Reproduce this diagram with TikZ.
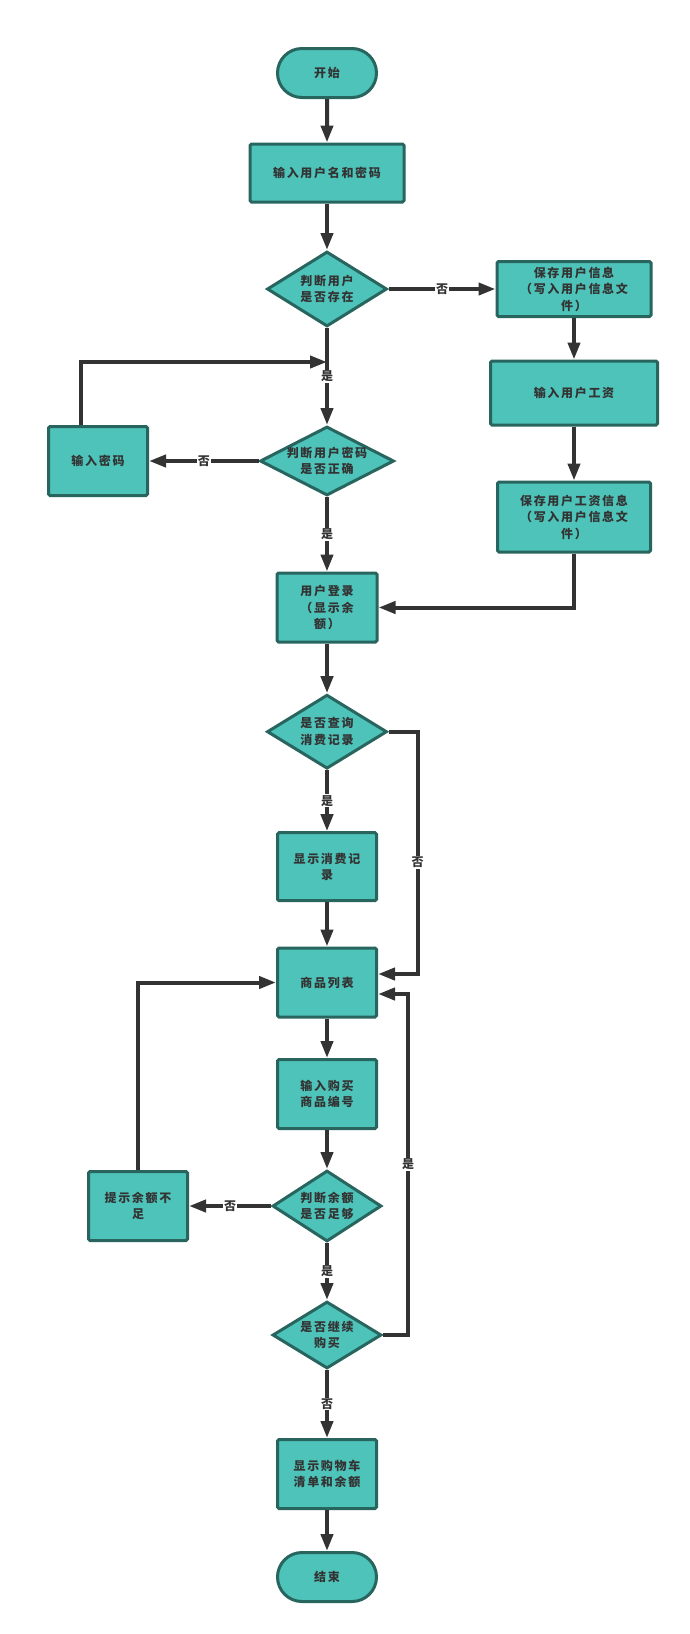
\documentclass[tikz,border=0pt]{standalone}
\usepackage{fontspec}
\newfontfamily\cjk[LetterSpace=14]{Noto Sans CJK SC}
\newfontfamily\cjkl{Noto Sans CJK SC}
\usetikzlibrary{arrows.meta,shapes.geometric,shapes.misc}
\definecolor{fl}{HTML}{4EC3B9}
\definecolor{bd}{HTML}{27655E}
\definecolor{ar}{HTML}{333333}
\definecolor{tx}{HTML}{333333}
\tikzset{
  base/.style={draw=bd, fill=fl, line width=3pt, text=tx, align=center, inner sep=0pt,
    font=\cjk\bfseries\fontsize{12}{16.5}\selectfont},
  proc/.style={base, rectangle, rounded corners=1.5pt, minimum width=#1},
  proc/.default=99pt,
  term/.style={base, rounded rectangle, minimum width=99pt, minimum height=49pt},
  dec/.style={base, diamond},
  dtext/.style={text=tx, align=center, inner sep=0pt, font=\cjk\bfseries\fontsize{12}{16.5}\selectfont},
  arr/.style={line width=4pt, draw=ar, -{Triangle[length=17pt,width=12pt]}},
  lab/.style={fill=white, text=ar, font=\cjkl\bfseries\fontsize{12}{14}\selectfont, inner sep=1pt}
}
\begin{document}
\begin{tikzpicture}[x=1pt,y=-1pt]
\useasboundingbox (0,0) rectangle (690,1634);
% nodes
\node[term] (start) at (327,73) {开始};
\node[proc=154pt, minimum height=58pt] (n1) at (327,173) {输入用户名和密码};
\node[dec, minimum width=120pt, minimum height=75pt, label={[dtext]center:判断用户\\是否存在}] (d1) at (327,289) {};
\node[proc=154pt, minimum height=55pt] (s1) at (574,289) {保存用户信息\\（写入用户信息文\\件）};
\node[proc=167pt, minimum height=64pt] (s2) at (574,393) {输入用户工资};
\node[proc=153pt, minimum height=70pt] (s3) at (574,517) {保存用户工资信息\\（写入用户信息文\\件）};
\node[proc, minimum height=69pt] (pw) at (98,461) {输入密码};
\node[dec, minimum width=134pt, minimum height=69pt, label={[dtext]center:判断用户密码\\是否正确}] (d2) at (327,461) {};
\node[proc=100pt, minimum height=69pt] (login) at (327,607.5) {用户登录\\（显示余\\额）};
\node[dec, minimum width=120pt, minimum height=74pt, label={[dtext]center:是否查询\\消费记录}] (d3) at (327,731.7) {};
\node[proc, minimum height=68pt] (rec) at (327,866.7) {显示消费记\\录};
\node[proc, minimum height=69pt] (list) at (327,982.5) {商品列表};
\node[proc, minimum height=69pt] (buy) at (327,1094) {输入购买\\商品编号};
\node[proc, minimum height=69pt] (low) at (138,1206) {提示余额不\\足};
\node[dec, minimum width=109pt, minimum height=71pt, label={[dtext]center:判断余额\\是否足够}] (d4) at (327,1206) {};
\node[dec, minimum width=109pt, minimum height=67pt, label={[dtext]center:是否继续\\购买}] (d5) at (327,1335) {};
\node[proc, minimum height=69pt] (cart) at (327,1474) {显示购物车\\清单和余额};
\node[term] (end) at (327,1577) {结束};
\coordinate (j1) at (327,362);
% connectors
\draw[arr] (start) -- (n1);
\draw[arr] (n1) -- (d1);
\draw[arr] (d1) -- node[lab]{是} (d2);
\draw[arr] (d1.east) -- node[lab]{否} (s1.west);
\draw[arr] (s1) -- (s2);
\draw[arr] (s2) -- (s3);
\draw[arr] (s3.south) |- (login.east);
\draw[arr] (d2.west) -- node[lab]{否} (pw.east);
\draw[arr] ([xshift=-17pt]pw.north) |- (j1);
\draw[arr] (d2) -- node[lab]{是} (login);
\draw[arr] (login) -- (d3);
\draw[arr] (d3) -- node[lab]{是} (rec);
\draw[arr] (d3.east) -- ++(29,0) |- node[lab, pos=0.27]{否} ([yshift=8.5pt]list.east);
\draw[arr] (rec) -- (list);
\draw[arr] (list) -- (buy);
\draw[arr] (buy) -- (d4);
\draw[arr] (d4.west) -- node[lab]{否} (low.east);
\draw[arr] (low.north) |- (list.west);
\draw[arr] (d4) -- node[lab]{是} (d5);
\draw[arr] (d5.east) -- ++(25,0) |- node[lab, pos=0.25]{是} ([yshift=-11.5pt]list.east);
\draw[arr] (d5) -- node[lab]{否} (cart);
\draw[arr] (cart) -- (end);
\end{tikzpicture}
\end{document}
